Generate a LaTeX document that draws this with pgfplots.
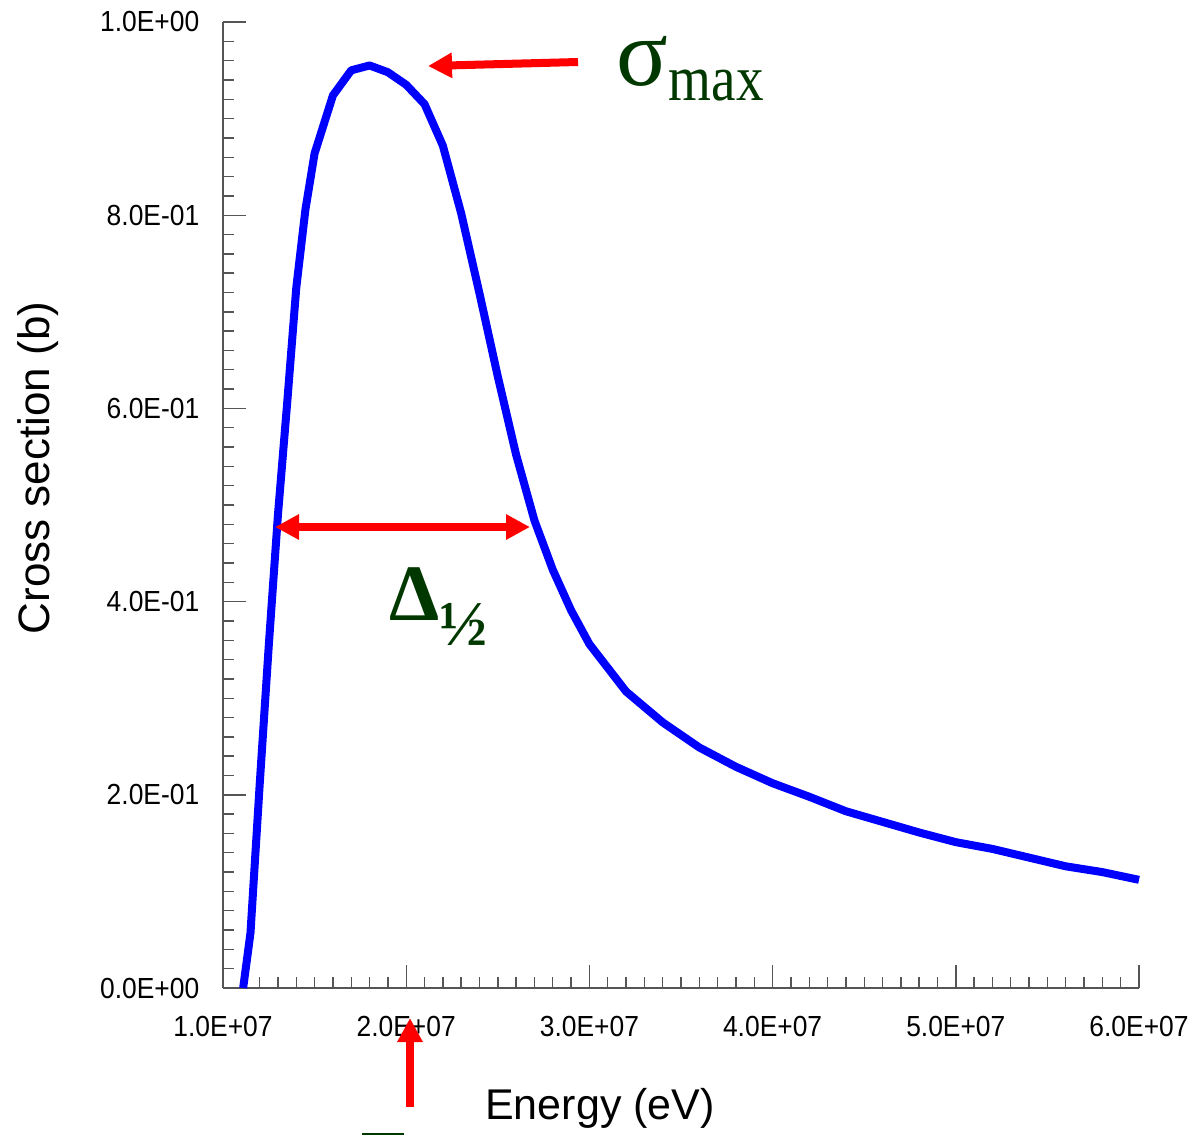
\documentclass[border=0pt]{standalone}
\usepackage{pgfplots}
\pgfplotsset{compat=1.18}
\usepackage{fontspec}
\setmainfont{Liberation Sans}
\newfontfamily\tnr{Liberation Serif}
\usetikzlibrary{arrows.meta}
\definecolor{dkgreen}{RGB}{0,56,0}
\definecolor{axgray}{RGB}{85,85,85}
\newcommand\tl[1]{\scalebox{1}[1.1]{#1}}
\begin{document}
\begin{tikzpicture}
\useasboundingbox (0,0) rectangle (298.5pt,-283.75pt);
\begin{axis}[
  at={(55.75pt,-247pt)}, anchor=south west,
  scale only axis, width=229pt, height=241.5pt,
  xmin=1e7, xmax=6e7, ymin=0, ymax=1,
  axis x line=bottom, axis y line=left,
  axis line style={-, axgray, line width=0.5pt},
  xtick={1e7,2e7,3e7,4e7,5e7,6e7},
  xticklabels={\tl{1.0E+07},\tl{2.0E+07},\tl{3.0E+07},\tl{4.0E+07},\tl{5.0E+07},\tl{6.0E+07}},
  ytick={0,0.2,0.4,0.6,0.8,1},
  yticklabels={\tl{0.0E+00},\tl{2.0E-01},\tl{4.0E-01},\tl{6.0E-01},\tl{8.0E-01},\tl{1.0E+00}},
  minor x tick num=9, minor y tick num=9,
  tick align=inside,
  major tick length=5.8pt, minor tick length=2.8pt,
  tick style={axgray, line width=0.35pt},
  ticklabel style={font=\fontsize{6.6pt}{7pt}\selectfont, inner sep=0pt},
  xticklabel style={yshift=-6.75pt},
  yticklabel style={xshift=-5.75pt},
  scaled x ticks=false, scaled y ticks=false,
  clip=false,
]
\addplot[blue, line width=2pt, line join=round, mark=none] table {
x y
1.11e7 0.000
1.15e7 0.057
1.20e7 0.210
1.25e7 0.355
1.30e7 0.490
1.35e7 0.605
1.40e7 0.725
1.45e7 0.806
1.50e7 0.864
1.60e7 0.924
1.70e7 0.950
1.80e7 0.955
1.90e7 0.948
2.00e7 0.935
2.10e7 0.915
2.20e7 0.872
2.30e7 0.802
2.40e7 0.719
2.50e7 0.633
2.60e7 0.552
2.70e7 0.484
2.80e7 0.433
2.90e7 0.391
3.00e7 0.356
3.20e7 0.307
3.40e7 0.275
3.60e7 0.249
3.80e7 0.229
4.00e7 0.212
4.20e7 0.198
4.40e7 0.183
4.60e7 0.172
4.80e7 0.161
5.00e7 0.151
5.20e7 0.144
5.40e7 0.135
5.60e7 0.126
5.80e7 0.120
6.00e7 0.112
};
\end{axis}
\begin{scope}[x=0.25pt,y=-0.25pt]
\draw[red, line width=2pt, -{Triangle[length=6pt,width=6pt]}] (578,62) -- (428,66);
\draw[red, line width=2pt, {Triangle[length=6pt,width=6pt]}-{Triangle[length=6pt,width=6pt]}] (275,527) -- (530,527);
\draw[red, line width=2pt, -{Triangle[length=6pt,width=6pt]}] (410,1107) -- (410,1018);
\fill[dkgreen] (362,1132.5) rectangle (404,1135);
\node[anchor=base west, inner sep=0pt, text=dkgreen, font=\tnr\fontsize{24pt}{24pt}\selectfont] at (616,85) {σ};
\node[anchor=base west, inner sep=0pt, text=dkgreen, font=\tnr\fontsize{13.5pt}{14pt}\selectfont] at (668,100) {\scalebox{1.02}[1.2]{max}};
\node[anchor=base west, inner sep=0pt, text=dkgreen, font=\tnr\bfseries\fontsize{20pt}{20pt}\selectfont] at (389,620) {Δ};
\node[anchor=base west, inner sep=0pt, text=dkgreen, font=\tnr\bfseries\fontsize{16pt}{16pt}\selectfont] at (439,645) {½};
\node[anchor=base, inner sep=0pt, font=\fontsize{10.75pt}{11pt}\selectfont] at (600,1119) {Energy (eV)};
\node[anchor=base, rotate=90, inner sep=0pt, font=\fontsize{11pt}{12pt}\selectfont] at (50,468) {Cross section (b)};
\end{scope}
\end{tikzpicture}
\end{document}
